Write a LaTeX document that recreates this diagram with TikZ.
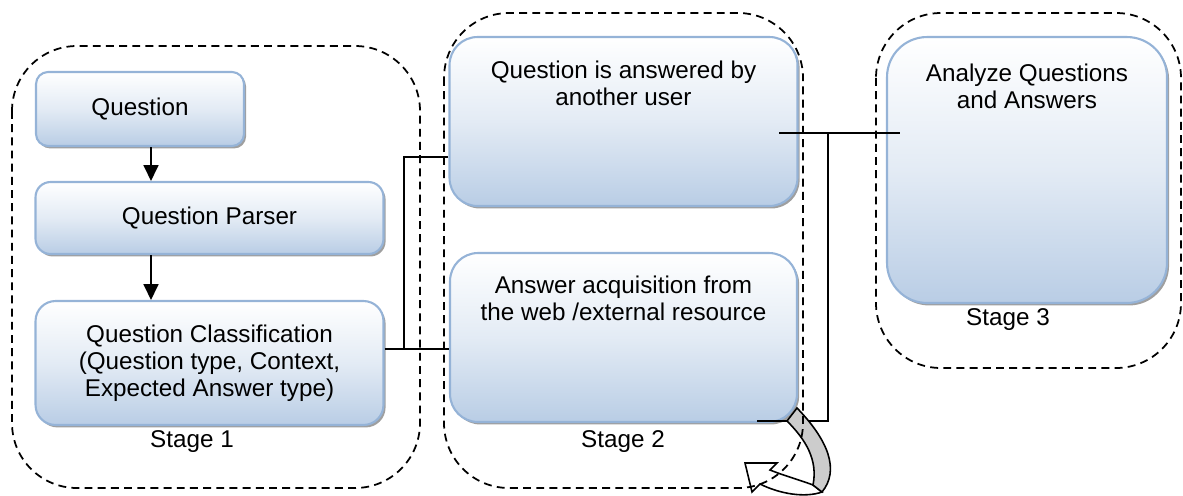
\documentclass[tikz,border=0pt]{standalone}
\usepackage{fontspec}
\setmainfont{Liberation Sans}
\usetikzlibrary{positioning}
\usetikzlibrary{shadows}
\usetikzlibrary{arrows.meta}

\definecolor{boxblue}{RGB}{185,205,229}
\definecolor{boxline}{RGB}{149,179,215}
\definecolor{bandgray}{RGB}{204,204,204}

\tikzset{
  stepbox/.style={shape=rectangle, draw=boxline, line width=1.2pt,
    shading=axis, top color=white, bottom color=boxblue, middle color=boxblue!40,
    drop shadow={shadow xshift=1.2pt, shadow yshift=-1.4pt, fill=gray!75, opacity=1},
    align=center, font=\fontsize{13.8}{15.3}\selectfont},
  boxtext/.style={align=center, font=\fontsize{13.8}{15.3}\selectfont, inner sep=0pt},
  stageline/.style={dashed, dash pattern=on 4.5pt off 3pt, line width=1pt, rounded corners=1.3cm},
  link/.style={line width=0.9pt},
  flowarrow/.style={line width=0.9pt, -{Triangle[length=9pt,width=8.5pt]}}
}

\begin{document}
\begin{tikzpicture}[x=0.02cm,y=-0.02cm]
      \useasboundingbox (0,0) rectangle (1183,495);

      % stage 1
      \node[stepbox, rounded corners=0.24cm, minimum width=4.16cm, minimum height=1.48cm] (quest) at (140,109) {Question};
      \node[stepbox, rounded corners=0.3cm, minimum width=6.96cm, minimum height=1.44cm] (parser) at (209.5,218) {Question Parser};
      \node[stepbox, rounded corners=0.4cm, minimum width=6.96cm, minimum height=2.48cm] (classif) at (209.5,363) {Question Classification\\(Question type, Context,\\Expected Answer type)};
      \node[boxtext] (stageone) at (192,442) {Stage 1};

      % stage 2
      \node[stepbox, rounded corners=0.56cm, minimum width=6.96cm, minimum height=3.38cm] (answered) at (623.5,121.5) {};
      \node[boxtext] (answeredtxt) at (623.5,83.5) {Question is answered by\\another user};
      \node[stepbox, rounded corners=0.56cm, minimum width=6.94cm, minimum height=3.38cm] (acquis) at (623.5,337.5) {};
      \node[boxtext] (acquistxt) at (623.5,298.5) {Answer acquisition from\\the web /external resource};
      \node[boxtext] (stagetwo) at (623,442) {Stage 2};

      % stage 3
      \node[stepbox, rounded corners=0.8cm, minimum width=5.6cm, minimum height=5.32cm] (analyze) at (1027,170) {};
      \node[boxtext] (analyzetxt) at (1027,86) {Analyze Questions\\and Answers};
      \node[boxtext] (stagethree) at (1008,320) {Stage 3};

      % arrows in stage 1
      \coordinate (ax) at (151,0);
      \draw[flowarrow] (quest.south -| ax) -- (parser.north -| ax);
      \draw[flowarrow] (parser.south -| ax) -- (classif.north -| ax);

      % links to stage 2
      \coordinate (j1) at (404,349);
      \coordinate (j2) at (404,157);
      \draw[link] (classif.east |- j1) -- (acquis.west |- j1);
      \draw[link] (j1) -- (j2) -- (answered.west |- j2);

      % links to stage 3
      \coordinate (k0) at (779,133);
      \coordinate (k1) at (828,133);
      \coordinate (k2) at (828,421);
      \coordinate (k3) at (900,133);
      \coordinate (k4) at (757,421);
      \draw[link] (k0) -- (k3);
      \draw[link] (k1) -- (k2) -- (k4);

      % curved arrow
      \draw[link, fill=white] (813,485) .. controls (800,480) and (785,476) .. (770,470) -- (777,463) -- (745,463) -- (752,492) -- (760,484) .. controls (780,494) and (805,498) .. (822,492) -- cycle;
      \draw[link, fill=bandgray] (797,408) .. controls (828,440) and (840,470) .. (822,492) -- (813,485) .. controls (818,460) and (806,440) .. (787,421) -- cycle;

      % stages
      \draw[stageline] (12,46) rectangle (420,488);
      \draw[stageline] (444,13) rectangle (803,488);
      \draw[stageline] (876,13) rectangle (1181,368);
\end{tikzpicture}
\end{document}
